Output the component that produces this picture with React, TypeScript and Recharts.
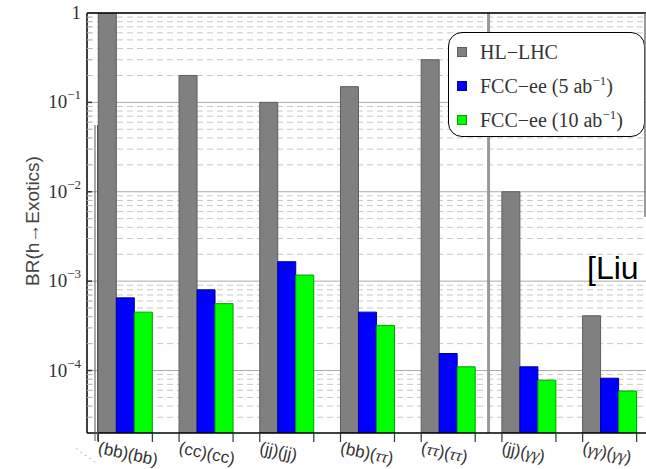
import React from 'react';
import { Bar, BarChart, CartesianGrid, Legend, ReferenceLine, XAxis, YAxis } from 'recharts';

// categories and branching ratios
const categories = ['(bb)(bb)', '(cc)(cc)', '(jj)(jj)', '(bb)(ττ)', '(ττ)(ττ)', '(jj)(γγ)', '(γγ)(γγ)'];
const hlLhc = [1, 0.2, 0.1, 0.15, 0.3, 0.01, 4.1e-4];
const fcc5 = [6.5e-4, 8e-4, 1.65e-3, 4.5e-4, 1.55e-4, 1.1e-4, 8.2e-5];
const fcc10 = [4.5e-4, 5.6e-4, 1.17e-3, 3.2e-4, 1.1e-4, 7.8e-5, 5.9e-5];

const majorTicks = [1, 1e-1, 1e-2, 1e-3, 1e-4];
const majorExponents = ['', '−1', '−2', '−3', '−4'];
const decades = [1e-1, 1e-2, 1e-3, 1e-4, 1e-5];
const minorSteps = [2, 3, 4, 5, 6, 7, 8, 9];

const series = [
    { key: 'hl', name: 'HL−LHC', sup: '', tail: '', fill: '#808080', stroke: '#5e5e5e' },
    { key: 'fcc5', name: 'FCC−ee (5 ab', sup: '−1', tail: ')', fill: '#0000ff', stroke: '#00008a' },
    { key: 'fcc10', name: 'FCC−ee (10 ab', sup: '−1', tail: ')', fill: '#00ff00', stroke: '#00a000' },
];

const Y_MIN = 2e-5;
const GROUP_HALF = 27;

const minorTicks = decades
    .flatMap((d) => minorSteps.map((k) => k * d))
    .filter((v) => v > Y_MIN * 1.05 && v < 1);

const data = categories.map((cat, i) => ({
    cat,
    hl: hlLhc[i],
    fcc5: fcc5[i],
    fcc10: fcc10[i],
}));

function YTick(props: any) {
    const { x, y, payload } = props;
    const idx = majorTicks.indexOf(payload.value);
    if (idx < 0) {
        return <line x1={x} x2={x + 5} y1={y} y2={y} stroke="#bbb" strokeWidth={1} />;
    }
    const exp = majorExponents[idx];
    return (
        <g>
            <line x1={x} x2={x + 5} y1={y} y2={y} stroke="#333" strokeWidth={1.5} />
            <text
                x={x - 6}
                y={y + 6}
                textAnchor="end"
                fontFamily='"Liberation Serif", serif'
                fontSize={19}
                fill="#333"
            >
                {exp ? '10' : '1'}
                {exp && (
                    <tspan dy={-9} fontSize={13}>
                        {exp}
                    </tspan>
                )}
            </text>
        </g>
    );
}

function XTick(props: any) {
    const { x, y, payload } = props;
    const parts = String(payload.value).split(/([τγ])/);
    return (
        <g>
            <line x1={x - GROUP_HALF} x2={x - GROUP_HALF} y1={y} y2={y + 9} stroke="#333" strokeWidth={1.2} />
            <line x1={x + GROUP_HALF} x2={x + GROUP_HALF} y1={y} y2={y + 9} stroke="#333" strokeWidth={1.2} />
            <text
                transform={`translate(${x - GROUP_HALF - 1},${y + 20}) rotate(12)`}
                fontFamily='"Liberation Sans", sans-serif'
                fontSize={17}
                fill="#333"
            >
                {parts.map((p, i) =>
                    p === 'τ' || p === 'γ' ? (
                        <tspan key={i} fontStyle="italic" fontFamily='"Liberation Serif", serif'>
                            {p}
                        </tspan>
                    ) : (
                        <tspan key={i}>{p}</tspan>
                    ),
                )}
            </text>
        </g>
    );
}

function YLabel(props: any) {
    const { viewBox } = props;
    const cx = viewBox.x + 39;
    const cy = viewBox.y + viewBox.height / 2 - 2;
    return (
        <text
            transform={`translate(${cx},${cy}) rotate(-90)`}
            textAnchor="middle"
            fontFamily='"Liberation Sans", sans-serif'
            fontSize={19}
            fill="#444"
        >
            BR(h→Exotics)
        </text>
    );
}

function LegendBox() {
    return (
        <div
            style={{
                width: 197,
                height: 105,
                boxSizing: 'border-box',
                border: '1.5px solid #000',
                borderRadius: 14,
                background: '#fff',
                paddingTop: 2,
                fontFamily: '"Liberation Serif", serif',
                fontSize: 20,
                color: '#333',
            }}
        >
            {series.map((s) => (
                <div key={s.key} style={{ display: 'flex', alignItems: 'center', height: 34, whiteSpace: 'nowrap' }}>
                    <span
                        style={{
                            display: 'inline-block',
                            width: 10,
                            height: 10,
                            boxSizing: 'border-box',
                            background: s.fill,
                            border: `1px solid ${s.stroke}`,
                            marginLeft: 8,
                            marginRight: 13,
                        }}
                    />
                    <span>
                        {s.name}
                        {s.sup && <sup style={{ fontSize: 13, lineHeight: 0 }}>{s.sup}</sup>}
                        {s.tail}
                    </span>
                </div>
            ))}
        </div>
    );
}

export default function App() {
    return (
        <div
            style={{
                position: 'absolute',
                left: 0,
                top: 0,
                width: 646,
                height: 469,
                overflow: 'hidden',
                background: '#fff',
            }}
        >
            <BarChart
                width={650}
                height={469}
                data={data}
                margin={{ top: 13, right: 0, left: 0, bottom: 0 }}
                barCategoryGap="16.5%"
                barGap={0}
            >
                <CartesianGrid
                    vertical={false}
                    horizontalValues={minorTicks}
                    stroke="#c8c8c8"
                    strokeDasharray="6 4"
                />
                <CartesianGrid vertical={false} horizontalValues={majorTicks} stroke="#aaa" />
                <XAxis
                    dataKey="cat"
                    padding={{ left: -2, right: 0 }}
                    axisLine={{ stroke: '#000', strokeWidth: 1.5 }}
                    tickLine={false}
                    tickSize={0}
                    tickMargin={0}
                    interval={0}
                    tick={<XTick />}
                    height={36}
                />
                <YAxis
                    scale="log"
                    domain={[Y_MIN, 1]}
                    allowDataOverflow
                    ticks={[...majorTicks, ...minorTicks]}
                    interval={0}
                    tick={<YTick />}
                    tickLine={false}
                    tickSize={0}
                    tickMargin={0}
                    width={87}
                    axisLine={{ stroke: '#000', strokeWidth: 1.5 }}
                    label={<YLabel />}
                />
                <ReferenceLine x={categories[5]} position="start" stroke="#999" strokeWidth={3} />
                <ReferenceLine y={1} stroke="#000" strokeWidth={1.5} />
                {series.map((s) => (
                    <Bar
                        key={s.key}
                        dataKey={s.key}
                        name={s.name}
                        fill={s.fill}
                        stroke={s.stroke}
                        strokeWidth={1}
                        isAnimationActive={false}
                    />
                ))}
                <Legend
                    layout="vertical"
                    align="center"
                    verticalAlign="middle"
                    content={<LegendBox />}
                    wrapperStyle={{ position: 'absolute', left: 448, top: 32, width: 197 }}
                />
            </BarChart>
            <svg
                width={646}
                height={469}
                style={{ position: 'absolute', left: 0, top: 0, pointerEvents: 'none' }}
            >
                <line x1={95} x2={95} y1={125} y2={441} stroke="#555" strokeWidth={1} />
                <line x1={97.5} x2={97.5} y1={125} y2={441} stroke="#555" strokeWidth={1} />
                <line x1={645} x2={645} y1={13} y2={217} stroke="#777" strokeWidth={1.5} />
                <text x={587} y={279} fontFamily='"Liberation Sans", sans-serif' fontSize={32} fill="#000">
                    [Liu
                </text>
                <text
                    transform="translate(74,450) rotate(36)"
                    fontFamily='"Liberation Sans", sans-serif'
                    fontSize={9}
                    fill="#777"
                >
                    · · · · ·
                </text>
            </svg>
        </div>
    );
}
